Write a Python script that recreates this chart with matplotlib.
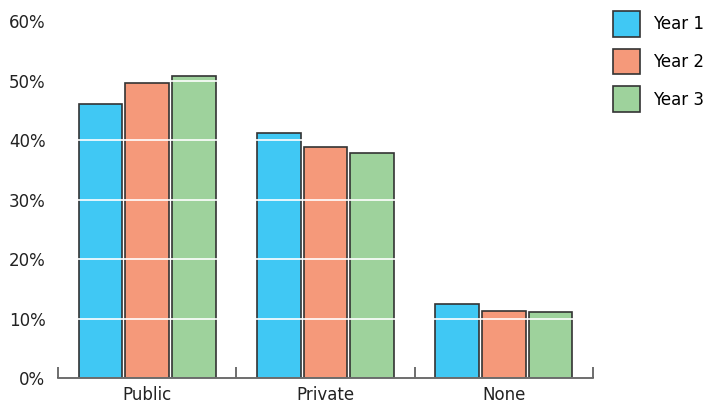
import numpy as np
import matplotlib.pyplot as plt
from matplotlib.ticker import FuncFormatter

plt.switch_backend("Agg")

categories = ["Public", "Private", "None"]
series_names = ["Year 1", "Year 2", "Year 3"]
year1 = [46.1, 41.2, 12.4]
year2 = [49.6, 38.8, 11.3]
year3 = [50.8, 37.8, 11.1]
colors = ["#40C8F4", "#F5997A", "#9ED29C"]

fig = plt.figure(figsize=(7.16, 4.07), dpi=100)
ax = fig.add_axes([0.081, 0.0713, 0.747, 0.876])

x = np.arange(len(categories))
width = 0.245
step = 0.262
for i, (vals, name, c) in enumerate(zip([year1, year2, year3], series_names, colors)):
    ax.bar(x + (i - 1) * step, vals, width, color=c, edgecolor="#333333",
           linewidth=1.2, label=name, zorder=2)

ax.set_xlim(-0.5, len(categories) - 0.5)
ax.set_ylim(0, 60)
ax.set_yticks(range(0, 61, 10))
ax.yaxis.set_major_formatter(FuncFormatter(lambda v, p: f"{v:.0f}%"))

# white gridlines drawn over the bars
ax.grid(axis="y", color="white", linewidth=1.2, zorder=3)
ax.set_axisbelow(False)

ax.set_xticks(x)
ax.set_xticklabels(categories)
ax.set_xticks(np.arange(-0.5, len(categories), 1.0), minor=True)
ax.tick_params(axis="x", which="major", length=0, pad=6, labelsize=12, labelcolor="#222222")
ax.tick_params(axis="x", which="minor", direction="in", length=8, width=1.2, color="#555555")
ax.tick_params(axis="y", length=0, pad=9, labelsize=12, labelcolor="#222222")

for s in ["left", "right", "top"]:
    ax.spines[s].set_visible(False)
ax.spines["bottom"].set_color("#555555")
ax.spines["bottom"].set_linewidth(1.2)
ax.spines["bottom"].set_zorder(4)

fig.legend(loc="upper left", bbox_to_anchor=(613 / 716, 1 - 11 / 407),
           frameon=False, fontsize=12, handlelength=1.6, handleheight=2.0,
           handletextpad=0.8, labelspacing=0.72, borderpad=0, borderaxespad=0)

fig.savefig("out.png", dpi=100)
